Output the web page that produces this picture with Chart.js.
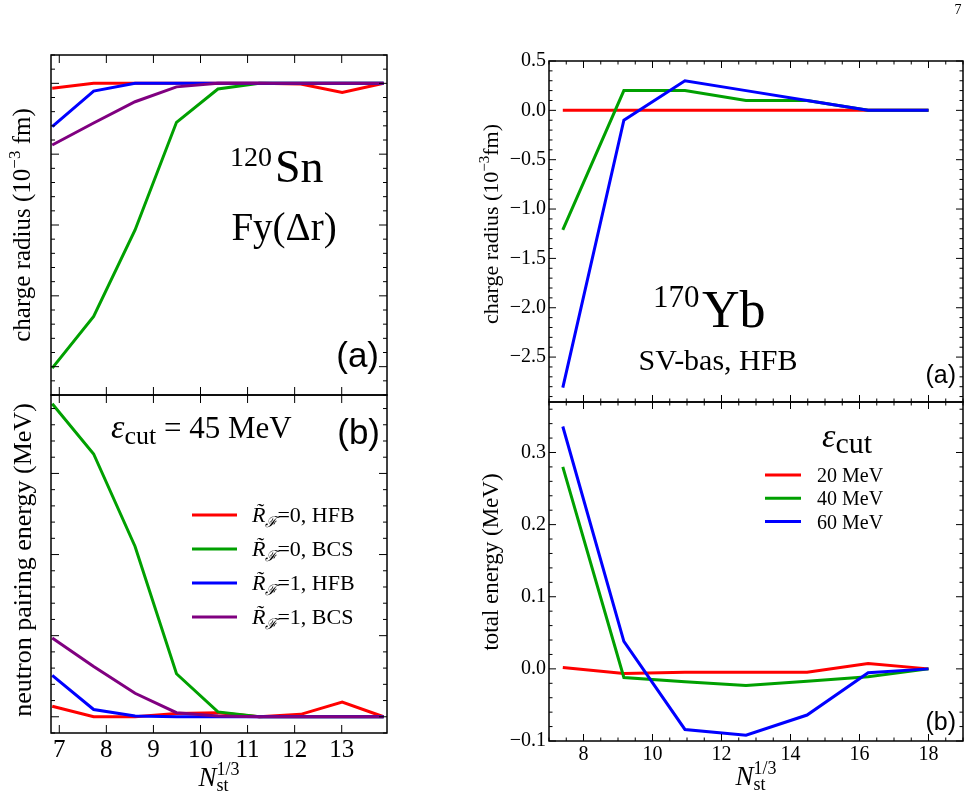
<!DOCTYPE html>
<html>
<head>
<meta charset="utf-8">
<script src="https://cdn.jsdelivr.net/npm/chart.js@4/dist/chart.umd.min.js"></script>
<style>
  body { margin: 0; background: #fff; }
  .box { position: absolute; left: 0; top: 0; width: 971px; height: 809px; }
</style>
</head>
<body>
<div class="box"><canvas id="snRadius"></canvas></div>
<div class="box"><canvas id="snPairing"></canvas></div>
<div class="box"><canvas id="ybRadius"></canvas></div>
<div class="box"><canvas id="ybEnergy"></canvas></div>
<script>
// 120Sn, eps_cut = 45 MeV
const xSn = [6.85, 7.73, 8.61, 9.49, 10.37, 11.25, 12.13, 13.01, 13.89];
const snLabels = ['R\u0303\u2131=0, HFB', 'R\u0303\u2131=0, BCS', 'R\u0303\u2131=1, HFB', 'R\u0303\u2131=1, BCS'];
const snRadiusHfb0 = [-0.07, 0, 0, 0, 0, 0, -0.01, -0.13, 0];
const snRadiusBcs0 = [-4.02, -3.29, -2.07, -0.55, -0.08, 0, 0, 0, 0];
const snRadiusHfb1 = [-0.61, -0.11, 0, 0, 0, 0, 0, 0, 0];
const snRadiusBcs1 = [-0.87, -0.56, -0.26, -0.05, 0, 0, 0, 0, 0];
const snPairHfb0 = [0.13, 0, 0, 0.04, 0.05, 0, 0.03, 0.18, 0];
const snPairBcs0 = [3.86, 3.24, 2.10, 0.53, 0.06, 0, 0, 0, 0];
const snPairHfb1 = [0.51, 0.09, 0.01, 0, 0, 0, 0, 0, 0];
const snPairBcs1 = [0.97, 0.62, 0.29, 0.05, 0.01, 0, 0, 0, 0];

// 170Yb, SV-bas, HFB
const xYb = [7.4, 9.17, 10.94, 12.71, 14.48, 16.25, 18.0];
const cutLabels = ['20 MeV', '40 MeV', '60 MeV'];
const ybRadius20 = [0, 0, 0, 0, 0, 0, 0];
const ybRadius40 = [-1.21, 0.2, 0.2, 0.1, 0.1, 0, 0];
const ybRadius60 = [-2.81, -0.1, 0.3, 0.2, 0.1, 0, 0];
const ybEnergy20 = [0.002, -0.0065, -0.0046, -0.0046, -0.0046, 0.0074, 0];
const ybEnergy40 = [0.28, -0.012, -0.018, -0.023, -0.017, -0.011, 0];
const ybEnergy60 = [0.336, 0.038, -0.084, -0.092, -0.064, -0.0055, 0];

const colors4 = ['#ff0000', '#00a000', '#0000ff', '#800080'];
const colors3 = ['#ff0000', '#00a000', '#0000ff'];

const serif = "'Liberation Serif', 'DejaVu Serif', serif";
const sans = "'Liberation Sans', Arial, sans-serif";

Chart.defaults.font.family = serif;
Chart.defaults.color = '#000';

function pts(xs, ys) {
  return xs.map((x, i) => ({ x: x, y: ys[i] }));
}

function makeSets(xs, series, labels, colors) {
  // last series is drawn on top
  return series.map((s, i) => ({
    label: labels[i],
    data: pts(xs, s),
    borderColor: colors[i],
    backgroundColor: colors[i],
    borderWidth: 3,
    pointRadius: 0,
    tension: 0,
    order: series.length - i
  }));
}

function onStep(v, step) {
  return Math.abs(v / step - Math.round(v / step)) < 1e-6;
}

function stepTicks(scale, step) {
  const out = [];
  const k0 = Math.ceil(scale.min / step - 1e-9), k1 = Math.floor(scale.max / step + 1e-9);
  for (let k = k0; k <= k1; k++) out.push({ value: +(k * step).toFixed(6) });
  scale.ticks = out;
}

function fmt1(v) {
  return (v < -1e-9 ? '\u2212' : '') + Math.abs(v).toFixed(1);
}

// text with sub/superscripts: parts = [text, font, dy, noAdvance]
function rich(ctx, x, y, parts, align) {
  let w = 0;
  parts.forEach(p => { ctx.font = p[1]; if (!p[3]) w += ctx.measureText(p[0]).width; });
  let cx = align === 'center' ? x - w / 2 : (align === 'right' ? x - w : x);
  ctx.textAlign = 'left';
  ctx.textBaseline = 'alphabetic';
  parts.forEach(p => {
    ctx.font = p[1];
    ctx.fillText(p[0], cx, y + (p[2] || 0));
    if (!p[3]) cx += ctx.measureText(p[0]).width;
  });
}

function vtext(ctx, x, y, parts) {
  ctx.save();
  ctx.translate(x, y);
  ctx.rotate(-Math.PI / 2);
  rich(ctx, 0, 0, parts, 'center');
  ctx.restore();
}

function seg(ctx, x1, y1, x2, y2) {
  ctx.beginPath();
  ctx.moveTo(x1, y1);
  ctx.lineTo(x2, y2);
  ctx.stroke();
}

// frame and inward ticks on all four sides
function frameTicks(chart, t) {
  const ctx = chart.ctx, a = chart.chartArea;
  const sx = chart.scales.x, sy = chart.scales.y;
  ctx.save();
  ctx.strokeStyle = '#000';
  ctx.lineWidth = 1;
  function run(scale, major, minor, draw) {
    const step = minor || major;
    const k0 = Math.ceil(scale.min / step - 1e-9), k1 = Math.floor(scale.max / step + 1e-9);
    for (let k = k0; k <= k1; k++) {
      const v = k * step;
      const len = onStep(v, major) ? t.majLen : t.minLen;
      draw(scale.getPixelForValue(v), len);
    }
  }
  run(sx, t.xMajor, t.xMinor, (p, len) => { seg(ctx, p, a.bottom, p, a.bottom - len); seg(ctx, p, a.top, p, a.top + len); });
  run(sy, t.yMajor, t.yMinor, (p, len) => { seg(ctx, a.left, p, a.left + len, p); seg(ctx, a.right, p, a.right - len, p); });
  ctx.lineWidth = 1.5;
  ctx.strokeRect(a.left, a.top, a.right - a.left, a.bottom - a.top);
  ctx.restore();
}

function panel(id, datasets, cfg, drawExtra) {
  return new Chart(document.getElementById(id), {
    type: 'line',
    data: { datasets: datasets },
    options: {
      responsive: true,
      maintainAspectRatio: false,
      animation: false,
      events: [],
      layout: { padding: cfg.pad },
      plugins: { legend: { display: false }, tooltip: { enabled: false } },
      scales: {
        x: {
          type: 'linear', min: cfg.xMin, max: cfg.xMax,
          grid: { display: false, drawTicks: false }, border: { display: false },
          ticks: { display: cfg.xLabels, padding: 2, autoSkip: false, maxRotation: 0,
                   font: { size: cfg.xFont }, callback: v => String(v) },
          afterBuildTicks: s => stepTicks(s, cfg.xStep),
          afterFit: s => { s.height = cfg.xH; }
        },
        y: {
          type: 'linear', min: cfg.yMin, max: cfg.yMax,
          grid: { display: false, drawTicks: false }, border: { display: false },
          ticks: { display: cfg.yLabels, padding: 3, autoSkip: false,
                   font: { size: 20 }, callback: v => fmt1(v) },
          afterBuildTicks: s => stepTicks(s, cfg.yStep),
          afterFit: s => { s.width = cfg.yW; }
        }
      }
    },
    plugins: [{
      id: 'deco',
      afterDraw: chart => {
        frameTicks(chart, cfg.tickSpec);
        const ctx = chart.ctx;
        ctx.save();
        ctx.fillStyle = '#000';
        drawExtra(ctx, chart);
        ctx.restore();
      }
    }]
  });
}

function axisTitleN(ctx, x, y) {
  rich(ctx, x, y, [
    ['N', 'italic 27px ' + serif],
    ['st', '18px ' + serif, 5, true],
    ['1/3', '18px ' + serif, -11]
  ], 'center');
}

// (a) 120Sn charge radius
panel('snRadius',
  makeSets(xSn, [snRadiusHfb0, snRadiusBcs0, snRadiusHfb1, snRadiusBcs1], snLabels, colors4),
  { pad: { left: 51, right: 584, top: 55, bottom: 414 }, xMin: 6.824, xMax: 13.962, xStep: 1, xLabels: false, xFont: 25, xH: 0,
    yMin: -4.40, yMax: 0.40, yStep: 1, yLabels: false, yW: 0,
    tickSpec: { xMajor: 1, xMinor: 0, yMajor: 1, yMinor: 0.2, majLen: 8, minLen: 4 } },
  ctx => {
    vtext(ctx, 30, 225, [
      ['charge radius (10', '25px ' + serif],
      ['\u22123', '17px ' + serif, -10],
      [' fm)', '25px ' + serif]
    ]);
    rich(ctx, 230, 166, [['120', '28px ' + serif]]);
    rich(ctx, 275, 182, [['Sn', '46px ' + serif]]);
    rich(ctx, 284, 240, [['Fy(\u0394r)', '39px ' + serif]], 'center');
    ctx.font = '35px ' + sans;
    ctx.textAlign = 'right';
    ctx.textBaseline = 'middle';
    ctx.fillText('(a)', 379, 357);
    ctx.font = '14px ' + serif;
    ctx.textAlign = 'center';
    ctx.fillText('7', 958, 10);
  });

// (b) 120Sn neutron pairing energy
panel('snPairing',
  makeSets(xSn, [snPairHfb0, snPairBcs0, snPairHfb1, snPairBcs1], snLabels, colors4),
  { pad: { left: 51, right: 584, top: 395, bottom: 36 }, xMin: 6.824, xMax: 13.962, xStep: 1, xLabels: true, xFont: 25, xH: 40,
    yMin: -0.20, yMax: 3.967, yStep: 1, yLabels: false, yW: 0,
    tickSpec: { xMajor: 1, xMinor: 0, yMajor: 1, yMinor: 0.2, majLen: 8, minLen: 4 } },
  (ctx, chart) => {
    vtext(ctx, 31, 560, [['neutron pairing energy (MeV)', '26px ' + serif]]);
    axisTitleN(ctx, 219, 786);
    rich(ctx, 111, 438, [
      ['\u03b5', 'italic 34px ' + serif],
      ['cut', '26px ' + serif, 6],
      [' = 45 MeV', '31px ' + serif]
    ]);
    ctx.font = '35px ' + sans;
    ctx.textAlign = 'right';
    ctx.textBaseline = 'middle';
    ctx.fillText('(b)', 380, 434);
    chart.data.datasets.forEach((ds, i) => {
      const y = 515 + i * 34;
      ctx.strokeStyle = ds.borderColor;
      ctx.lineWidth = 3;
      seg(ctx, 192, y, 237, y);
      rich(ctx, 252, y + 7, [
        [ds.label.slice(0, 2), 'italic 22px ' + serif],
        [ds.label.slice(2, 3), 'italic 15px ' + serif, 5],
        [ds.label.slice(3), '22px ' + serif]
      ]);
    });
  });

// (a) 170Yb charge radius
panel('ybRadius',
  makeSets(xYb, [ybRadius20, ybRadius40, ybRadius60], cutLabels, colors3),
  { pad: { left: 489, right: 8, top: 61, bottom: 407 }, xMin: 7, xMax: 19, xStep: 2, xLabels: false, xFont: 20, xH: 0,
    yMin: -2.955, yMax: 0.5, yStep: 0.5, yLabels: true, yW: 60,
    tickSpec: { xMajor: 2, xMinor: 0.5, yMajor: 0.5, yMinor: 0.1, majLen: 7, minLen: 3.5 } },
  ctx => {
    vtext(ctx, 498, 224, [
      ['charge radius (10', '22px ' + serif],
      ['\u22123', '15px ' + serif, -9],
      ['fm)', '22px ' + serif]
    ]);
    rich(ctx, 653, 307, [['170', '31px ' + serif]]);
    rich(ctx, 702, 327, [['Yb', '52px ' + serif]]);
    rich(ctx, 718, 370, [['SV-bas, HFB', '30px ' + serif]], 'center');
    ctx.font = '25px ' + sans;
    ctx.textAlign = 'right';
    ctx.textBaseline = 'middle';
    ctx.fillText('(a)', 956, 376);
  });

// (b) 170Yb total energy
panel('ybEnergy',
  makeSets(xYb, [ybEnergy20, ybEnergy40, ybEnergy60], cutLabels, colors3),
  { pad: { left: 489, right: 8, top: 402, bottom: 28 }, xMin: 7, xMax: 19, xStep: 2, xLabels: true, xFont: 20, xH: 40,
    yMin: -0.1, yMax: 0.37, yStep: 0.1, yLabels: true, yW: 60,
    tickSpec: { xMajor: 2, xMinor: 0.5, yMajor: 0.1, yMinor: 0.02, majLen: 7, minLen: 3.5 } },
  (ctx, chart) => {
    vtext(ctx, 498, 562, [['total energy (MeV)', '23px ' + serif]]);
    axisTitleN(ctx, 756, 785);
    ctx.font = '25px ' + sans;
    ctx.textAlign = 'right';
    ctx.textBaseline = 'middle';
    ctx.fillText('(b)', 956, 723);
    rich(ctx, 822, 447, [
      ['\u03b5', 'italic 34px ' + serif],
      ['cut', '30px ' + serif, 6]
    ]);
    chart.data.datasets.forEach((ds, i) => {
      const y = 475 + i * 23.3;
      ctx.strokeStyle = ds.borderColor;
      ctx.lineWidth = 3;
      seg(ctx, 765, y, 801, y);
      rich(ctx, 817, y + 7, [[ds.label, '20px ' + serif]]);
    });
  });
</script>
</body>
</html>
